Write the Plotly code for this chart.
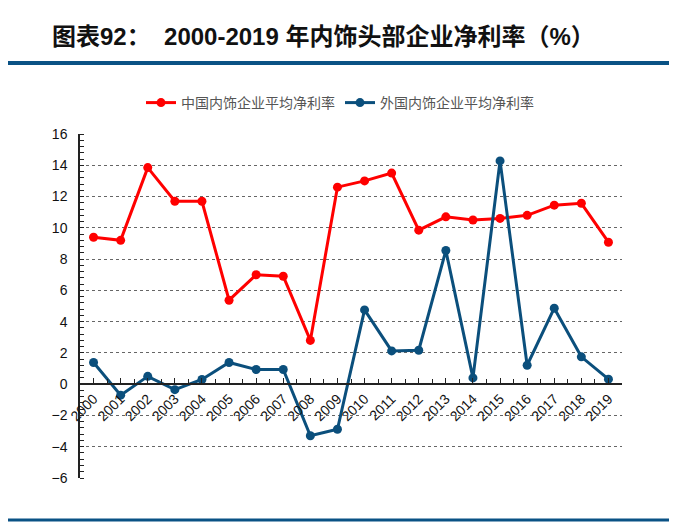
import plotly.graph_objects as go

years = [str(y) for y in range(2000, 2020)]
china = [9.4, 9.2, 13.85, 11.7, 11.7, 5.37, 7.0, 6.9, 2.8, 12.6,
         13.0, 13.5, 9.85, 10.7, 10.5, 10.6, 10.8, 11.45, 11.57, 9.08]
foreign = [1.39, -0.7, 0.5, -0.35, 0.3, 1.39, 0.94, 0.94, -3.3, -2.88,
           4.75, 2.13, 2.17, 8.55, 0.4, 14.28, 1.21, 4.86, 1.75, 0.32]
y_ticks = [-6, -4, -2, 0, 2, 4, 6, 8, 10, 12, 14, 16]

RED = "#ff0000"
BLUE = "#0b4f7c"
FONT = "Liberation Sans, Arial, Noto Sans CJK SC, sans-serif"

# page body has an 8px margin; figure placed at (8, 8)
OFF = 8
W, H = 677 - OFF, 531 - OFF
L, R, T, B = 80 - OFF, W - (622 - OFF), 134 - OFF, H - (478 - OFF)
PW, PH = W - L - R, H - T - B

def px(x):  # page x -> paper fraction
    return (x - OFF - L) / PW

def py(y):  # page y -> paper fraction
    return 1 - (y - OFF - T) / PH

fig = go.Figure()
fig.add_trace(go.Scatter(x=years, y=china, mode="lines+markers", name="中国内饰企业平均净利率",
                         line=dict(color=RED, width=3), marker=dict(color=RED, size=9)))
fig.add_trace(go.Scatter(x=years, y=foreign, mode="lines+markers", name="外国内饰企业平均净利率",
                         xaxis="x2",
                         line=dict(color=BLUE, width=3), marker=dict(color=BLUE, size=9)))

ymin, ymax = -6, 16
zero_pos = (0 - ymin) / (ymax - ymin)
fig.update_layout(
    width=W, height=H,
    margin=dict(l=L, r=R, t=T, b=B, autoexpand=False),
    paper_bgcolor="white", plot_bgcolor="white",
    font=dict(family=FONT, size=13, color="#111"),
    showlegend=True,
    legend=dict(orientation="h", x=px(340), xanchor="center", y=py(103), yanchor="middle",
                font=dict(size=14, color="#555", family="Noto Sans CJK SC, sans-serif"),
                itemwidth=30),
    xaxis=dict(type="category", anchor="free", position=zero_pos,
               showline=True, linecolor="#222", linewidth=2,
               ticks="inside", ticklen=5, tickcolor="#222",
               tickangle=-45, showgrid=False, tickfont=dict(size=14, color="#111"),
               range=[-0.5, 19.5]),
    xaxis2=dict(type="category", anchor="free", position=zero_pos, overlaying="x",
                side="bottom", showline=False, showticklabels=False,
                ticks="inside", tickson="boundaries", ticklen=5, tickcolor="#222",
                showgrid=False, range=[-0.5, 19.5]),
    yaxis=dict(range=[ymin, ymax], tickvals=y_ticks, showline=True, linecolor="#222",
               linewidth=1.5, ticks="", showgrid=True, gridcolor="#666", griddash="dot",
               gridwidth=1, zeroline=False, tickfont=dict(size=14, color="#111"),
               ticklabelstandoff=8,
               minor=dict(dtick=0.4, tick0=0, ticks="inside", ticklen=4, tickcolor="#222",
                          showgrid=False)),
)

# Title and decorative lines
fig.add_annotation(xref="paper", yref="paper", x=px(50), y=py(37),
                   xanchor="left", yanchor="middle",
                   text="<b>图表92：  2000-2019 年内饰头部企业净利率（%）</b>", showarrow=False,
                   font=dict(size=24, color="#111", family="Liberation Sans, Noto Sans CJK SC, sans-serif"))
fig.add_shape(type="line", xref="paper", yref="paper", x0=px(0), x1=px(670),
              y0=py(63), y1=py(63), line=dict(color="#0a5285", width=4))
fig.add_shape(type="line", xref="paper", yref="paper", x0=px(0), x1=px(670),
              y0=py(520), y1=py(520), line=dict(color="#0a5285", width=3))

fig.write_html("out.html")
